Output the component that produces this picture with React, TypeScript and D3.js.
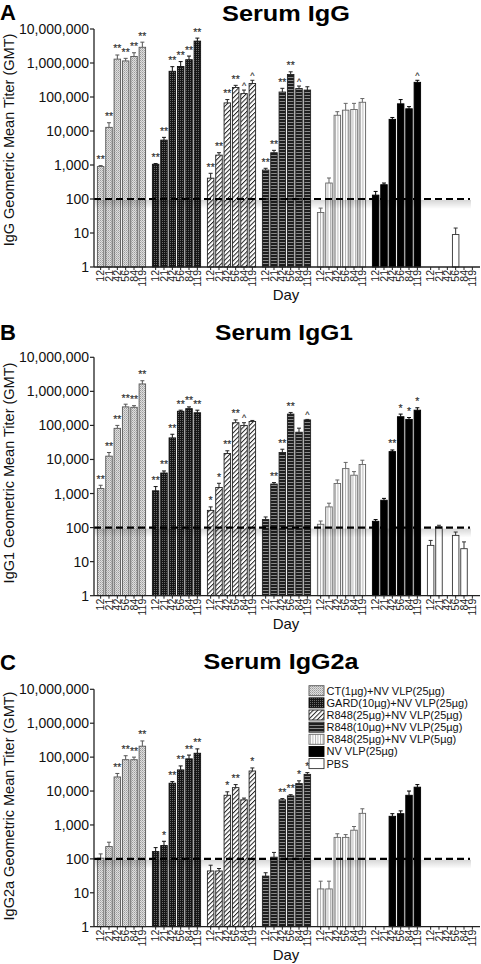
import React from "react";
import * as d3 from "d3";

const groups = [
  "CT(1µg)+NV VLP(25µg)",
  "GARD(10µg)+NV VLP(25µg)",
  "R848(25µg)+NV VLP(25µg)",
  "R848(10µg)+NV VLP(25µg)",
  "R848(25µg)+NV VLP(5µg)",
  "NV VLP(25µg)",
  "PBS",
];
const days = ["12", "21", "42", "56", "84", "119"];
const yTickValues = [1, 10, 100, 1000, 10000, 100000, 1000000, 10000000];
const cutoff = 100;

// Panel A: Serum IgG
const iggMean: (number | null)[][] = [
  [900, 12800, 1300000, 1150000, 1550000, 2900000],
  [1050, 5400, 570000, 790000, 1250000, 4400000],
  [410, 1950, 67000, 190000, 126000, 250000],
  [710, 2300, 140000, 460000, 177000, 160000],
  [40, 295, 29000, 41000, 43000, 70000],
  [130, 263, 22000, 63000, 45000, 270000],
  [null, null, null, 9, null, null],
];
const iggUpper: (number | null)[][] = [
  [960, 17500, 1720000, 1370000, 2000000, 4100000],
  [1100, 6500, 780000, 1100000, 1600000, 5400000],
  [570, 2300, 84000, 220000, 160000, 310000],
  [800, 2700, 180000, 550000, 210000, 200000],
  [54, 415, 37000, 65000, 65000, 90000],
  [167, 295, 25000, 84000, 52000, 310000],
  [null, null, null, 14, null, null],
];
const iggSig: string[][] = [
  ["**", "**", "**", "**", "**", "**"],
  ["**", "**", "**", "**", "**", "**"],
  ["**", "**", "**", "**", "^", "^"],
  ["**", "**", "**", "**", "^", ""],
  ["", "", "", "", "", ""],
  ["", "", "", "", "", "^"],
  ["", "", "", "", "", ""],
];

// Panel B: Serum IgG1
const igg1Mean: (number | null)[][] = [
  [1400, 12500, 82000, 350000, 340000, 1650000],
  [1200, 4000, 43000, 260000, 310000, 235000],
  [320, 1500, 15000, 120000, 100000, 130000],
  [172, 1900, 16000, 215000, 63000, 145000],
  [125, 405, 1970, 5400, 3450, 7100],
  [153, 635, 17000, 180000, 150000, 280000],
  [30, 105, null, 59, 24, null],
];
const igg1Upper: (number | null)[][] = [
  [1750, 16000, 100000, 420000, 380000, 2050000],
  [1600, 4600, 55000, 280000, 350000, 280000],
  [405, 2000, 18000, 145000, 120000, 140000],
  [205, 2100, 20000, 240000, 83000, 150000],
  [156, 520, 2500, 8200, 4400, 9500],
  [172, 720, 19000, 215000, 170000, 330000],
  [42, 117, null, 74, 38, null],
];
const igg1Sig: string[][] = [
  ["**", "**", "**", "**", "**", "**"],
  ["**", "**", "**", "**", "**", "**"],
  ["*", "*", "**", "**", "^", ""],
  ["", "**", "**", "**", "", "^"],
  ["", "", "", "", "", ""],
  ["", "", "**", "*", "*", "*"],
  ["", "", "", "", "", ""],
];

// Panel C: Serum IgG2a
const igg2aMean: (number | null)[][] = [
  [105, 230, 26000, 84000, 84000, 210000],
  [164, 247, 17000, 42000, 89000, 130000],
  [44, 44, 7500, 12600, 5500, 39000],
  [31, 112, 5500, 7200, 16600, 31000],
  [13, 13, 430, 430, 700, 2200],
  [null, null, 1800, 2150, 7500, 13000],
  [null, null, null, null, null, null],
];
const igg2aUpper: (number | null)[][] = [
  [140, 310, 33000, 110000, 100000, 300000],
  [215, 330, 19000, 55000, 115000, 175000],
  [65, 52, 9500, 15500, 6200, 48000],
  [39, 155, 6000, 7800, 20000, 35000],
  [22, 22, 550, 520, 900, 3000],
  [null, null, 2150, 2600, 10000, 15500],
  [null, null, null, null, null, null],
];
const igg2aSig: string[][] = [
  ["", "", "**", "**", "**", "**"],
  ["", "*", "**", "**", "**", "**"],
  ["", "", "*", "**", "", "*"],
  ["", "", "**", "**", "*", "*"],
  ["", "", "", "", "", ""],
  ["", "", "", "", "", ""],
  ["", "", "", "", "", ""],
];

const groupStyles = [
  { fill: "url(#pCT)", stroke: "#555" },
  { fill: "url(#pGARD)", stroke: "#111" },
  { fill: "url(#pHatch)", stroke: "#222" },
  { fill: "url(#pHoriz)", stroke: "#222" },
  { fill: "url(#pVert)", stroke: "#666" },
  { fill: "#000", stroke: "#000" },
  { fill: "#fff", stroke: "#333" },
];

const FONT = "'Liberation Sans', Arial, Helvetica, sans-serif";

const panels = [
  {
    letter: "A", title: "Serum IgG", ylabel: "IgG Geometric Mean Titer (GMT)",
    mean: iggMean, upper: iggUpper, sig: iggSig,
    top: 29, bottom: 267, titleY: 20.5, titleX: 286, titleW: 128, labelY: 140, letterY: 19.5,
  },
  {
    letter: "B", title: "Serum IgG1", ylabel: "IgG1 Geometric Mean Titer (GMT)",
    mean: igg1Mean, upper: igg1Upper, sig: igg1Sig,
    top: 357.3, bottom: 595.7, titleY: 340, titleX: 284, titleW: 138, labelY: 473, letterY: 340,
  },
  {
    letter: "C", title: "Serum IgG2a", ylabel: "IgG2a Geometric Mean Titer (GMT)",
    mean: igg2aMean, upper: igg2aUpper, sig: igg2aSig,
    top: 689.3, bottom: 926.7, titleY: 669, titleX: 281, titleW: 155, labelY: 806, letterY: 670,
  },
];

const AXIS_X = 94;
const AXIS_END = 480;

export default function App() {
  const fmt = d3.format(",");
  const x0 = d3.scaleBand<string>().domain(groups).range([AXIS_X, 479]).paddingInner(0.09).paddingOuter(0.045);
  const x1 = d3.scaleBand<string>().domain(days).range([0, x0.bandwidth()]).paddingInner(0.22).paddingOuter(0.11);
  const bw = x1.bandwidth();

  return (
    <svg width={481} height={964} style={{ position: "absolute", left: 0, top: 0, background: "#fff" }} fontFamily={FONT}>
      <defs>
        <pattern id="pCT" patternUnits="userSpaceOnUse" width={2} height={2}>
          <rect width={2} height={2} fill="#dedede" />
          <rect x={0} y={0} width={1} height={1} fill="#9c9c9c" />
          <rect x={1} y={1} width={1} height={1} fill="#b8b8b8" />
        </pattern>
        <pattern id="pGARD" patternUnits="userSpaceOnUse" width={2} height={2}>
          <rect width={2} height={2} fill="#161616" />
          <rect x={0} y={0} width={1} height={1} fill="#6a6a6a" />
        </pattern>
        <pattern id="pHatch" patternUnits="userSpaceOnUse" width={3.2} height={3.2} patternTransform="rotate(45)">
          <rect width={3.2} height={3.2} fill="#fff" />
          <line x1={0.5} y1={0} x2={0.5} y2={3.2} stroke="#222" strokeWidth={1} />
        </pattern>
        <pattern id="pHoriz" patternUnits="userSpaceOnUse" width={3} height={3}>
          <rect width={3} height={3} fill="#1e1e1e" />
          <rect x={0} y={2} width={3} height={1} fill="#8a8a8a" />
        </pattern>
        <pattern id="pVert" patternUnits="userSpaceOnUse" width={2.5} height={2.5}>
          <rect width={2.5} height={2.5} fill="#fff" />
          <rect x={0} y={0} width={0.9} height={2.5} fill="#b0b0b0" />
        </pattern>
        <linearGradient id="shadow" x1="0" y1="0" x2="0" y2="1">
          <stop offset="0" stopColor="#000" stopOpacity={0.16} />
          <stop offset="1" stopColor="#000" stopOpacity={0} />
        </linearGradient>
      </defs>

      {panels.map((p) => {
        const y = d3.scaleLog().domain([1, 1e7]).range([p.bottom, p.top]);
        const yc = y(cutoff);
        return (
          <g key={p.letter}>
            <text x={0} y={p.letterY} fontSize={22} fontWeight="bold" fill="#000">{p.letter}</text>
            <text x={p.titleX} y={p.titleY} fontSize={22.5} fontWeight="bold" textAnchor="middle"
              textLength={p.titleW} lengthAdjust="spacingAndGlyphs" fill="#000">{p.title}</text>
            <text transform={`translate(14,${p.labelY}) rotate(-90)`} fontSize={14.5} textAnchor="middle" fill="#111">{p.ylabel}</text>

            {/* bars */}
            {groups.map((g, gi) => (
              <g key={g}>
                {days.map((d, di) => {
                  const v = p.mean[gi][di];
                  if (v == null) return null;
                  const up = p.upper[gi][di];
                  const cx = (x0(g) as number) + (x1(d) as number) + bw / 2;
                  const top = y(v);
                  const st = groupStyles[gi];
                  const eTop = up != null ? y(up) : top;
                  return (
                    <g key={d}>
                      {up != null && (
                        <g stroke={st.stroke} strokeWidth={1}>
                          <line x1={cx} x2={cx} y1={top} y2={eTop} />
                          <line x1={cx - 2} x2={cx + 2} y1={eTop} y2={eTop} />
                        </g>
                      )}
                      <rect x={cx - bw / 2} y={top} width={bw} height={p.bottom - top}
                        fill={st.fill} stroke={st.stroke} strokeWidth={0.9} />
                    </g>
                  );
                })}
              </g>
            ))}

            {/* significance marks */}
            <g>
              {groups.map((g, gi) =>
                days.map((d, di) => {
                  const s = p.sig[gi][di];
                  const v = p.mean[gi][di];
                  if (!s || v == null) return null;
                  const up = p.upper[gi][di];
                  const cx = (x0(g) as number) + (x1(d) as number) + bw / 2;
                  const eTop = up != null ? y(up) : y(v);
                  const ty = eTop - (s === "^" ? 1.5 : 2.5);
                  return (
                    <text key={g + d} x={cx} y={ty} fontSize={s === "^" ? 9 : 10.5}
                      textAnchor="middle" fill="#333" stroke="#333" strokeWidth={0.15}>{s}</text>
                  );
                })
              )}
            </g>

            {/* cutoff line */}
            <rect x={AXIS_X + 1} y={yc + 1} width={470 - AXIS_X} height={9} fill="url(#shadow)" />
            <line x1={AXIS_X} x2={470} y1={yc} y2={yc} stroke="#000" strokeWidth={2.2} strokeDasharray="7,4" />

            {/* y axis */}
            <line x1={AXIS_X} x2={AXIS_X} y1={p.top} y2={p.bottom} stroke="#222" strokeWidth={1.3} />
            {yTickValues.map((t) => (
              <g key={t}>
                <line x1={AXIS_X - 4} x2={AXIS_X} y1={y(t)} y2={y(t)} stroke="#222" strokeWidth={1.2} />
                <text x={AXIS_X - 5} y={y(t) + 5} fontSize={14} textAnchor="end" fill="#111">{fmt(t)}</text>
              </g>
            ))}

            {/* x axis */}
            <line x1={AXIS_X} x2={AXIS_END} y1={p.bottom} y2={p.bottom} stroke="#222" strokeWidth={1.3} />
            {groups.map((g) =>
              days.map((d) => {
                const cx = (x0(g) as number) + (x1(d) as number) + bw / 2;
                return (
                  <g key={g + d}>
                    <line x1={cx} x2={cx} y1={p.bottom} y2={p.bottom + 3} stroke="#222" strokeWidth={1} />
                    <text transform={`translate(${cx + 3.6},${p.bottom + 3}) rotate(-90)`} fontSize={10.5}
                      textAnchor="end" fill="#222">{d}</text>
                  </g>
                );
              })
            )}
            <text x={286} y={p.bottom + 33} fontSize={15} textAnchor="middle" fill="#111">Day</text>
          </g>
        );
      })}

      {/* legend */}
      <g>
        {groups.map((g, gi) => {
          const cy = 690.7 + gi * 12.15;
          const st = groupStyles[gi];
          return (
            <g key={g}>
              <rect x={309} y={cy - 5} width={15} height={10} fill={st.fill} stroke={st.stroke} strokeWidth={0.9} />
              <text x={326.5} y={cy + 4} fontSize={11} fill="#111">{g}</text>
            </g>
          );
        })}
      </g>
    </svg>
  );
}
